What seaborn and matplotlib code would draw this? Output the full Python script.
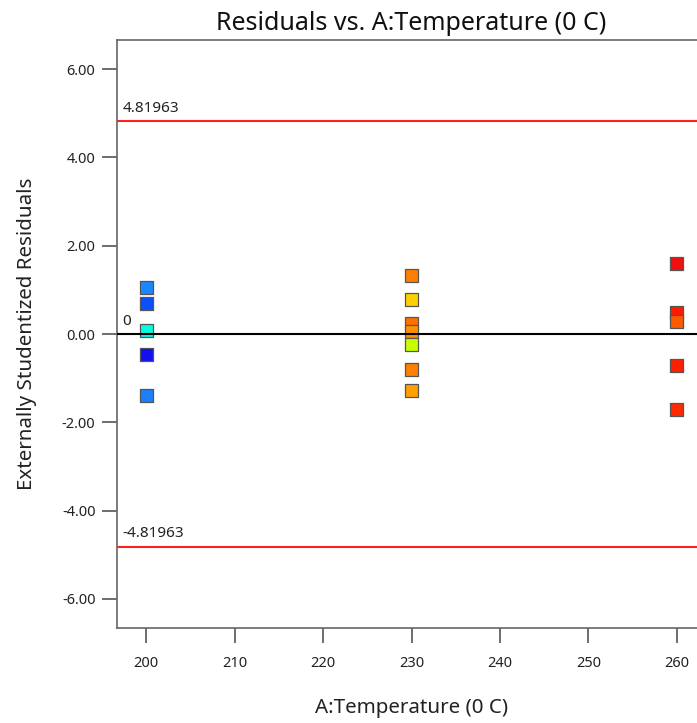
import matplotlib
matplotlib.use("Agg")
import matplotlib.pyplot as plt
import seaborn as sns
import pandas as pd

# Run settings and residuals
temperature = [200, 200, 200, 200, 200,
               230, 230, 230, 230, 230, 230, 230,
               260, 260, 260, 260, 260]
residuals = [1.06, 0.69, 0.07, -0.46, -1.39,
             1.32, 0.78, 0.23, 0.05, -0.23, -0.80, -1.29,
             1.60, 0.48, 0.29, -0.72, -1.70]
point_colors = ["#1a86ff", "#0a50ff", "#00ffe0", "#1010f0", "#1a80ff",
                "#ff8000", "#ffd000", "#ff7000", "#ff9000", "#c8ff00", "#ff8000", "#ffa000",
                "#f01010", "#ff1a00", "#ff5a00", "#ff2000", "#ff2a00"]
limit_value = 4.81963
y_ticks = [-6, -4, -2, 0, 2, 4, 6]
x_ticks = [200, 210, 220, 230, 240, 250, 260]

sns.set_style("white")
plt.rcParams["font.family"] = ["Noto Sans", "DejaVu Sans"]

df = pd.DataFrame({"temp": temperature, "resid": residuals,
                   "pid": [str(i) for i in range(len(residuals))]})
palette = {str(i): c for i, c in enumerate(point_colors)}

fig = plt.figure(figsize=(6.97, 7.23), dpi=100)
ax = fig.add_axes([117 / 697, 95 / 723, 589 / 697, 588 / 723])

sns.scatterplot(data=df, x="temp", y="resid", hue="pid", palette=palette,
                marker="s", s=88, edgecolor="#555555", linewidth=0.9,
                legend=False, ax=ax, zorder=3)

ax.axhline(limit_value, color="#ff2020", lw=1.5, zorder=2)
ax.axhline(-limit_value, color="#ff2020", lw=1.5, zorder=2)
ax.axhline(0, color="black", lw=1.5, zorder=4)

x0 = 196.7 + 0.65
ax.text(x0, limit_value + 0.12, f"{limit_value:.5f}", fontsize=11, color="#222222", va="bottom")
ax.text(x0, -limit_value + 0.12, f"-{limit_value:.5f}", fontsize=11, color="#222222", va="bottom")
ax.text(x0, 0.12, "0", fontsize=11, color="#222222", va="bottom")

ax.set_xlim(196.7, 263.3)
ax.set_ylim(-6.66, 6.66)
ax.set_xticks(x_ticks)
ax.set_yticks(y_ticks)
ax.set_yticklabels([f"{v:.2f}" for v in y_ticks])
ax.tick_params(axis="both", direction="out", length=10.5, width=1.2, color="#555555",
               labelsize=10.5, labelcolor="#222222", pad=5)
ax.tick_params(axis="x", pad=10)
ax.tick_params(left=True, bottom=True)

for side in ["left", "bottom", "top", "right"]:
    ax.spines[side].set_color("#666666")
    ax.spines[side].set_linewidth(1.2)

ax.set_xlabel("A:Temperature (0 C)", fontsize=14.8, color="#222222", labelpad=19)
ax.set_ylabel("Externally Studentized Residuals", fontsize=14.8, color="#222222", labelpad=18)
ax.set_title("Residuals vs. A:Temperature (0 C)", fontsize=18, color="#111111", pad=7)

fig.savefig("out.png", dpi=100)
